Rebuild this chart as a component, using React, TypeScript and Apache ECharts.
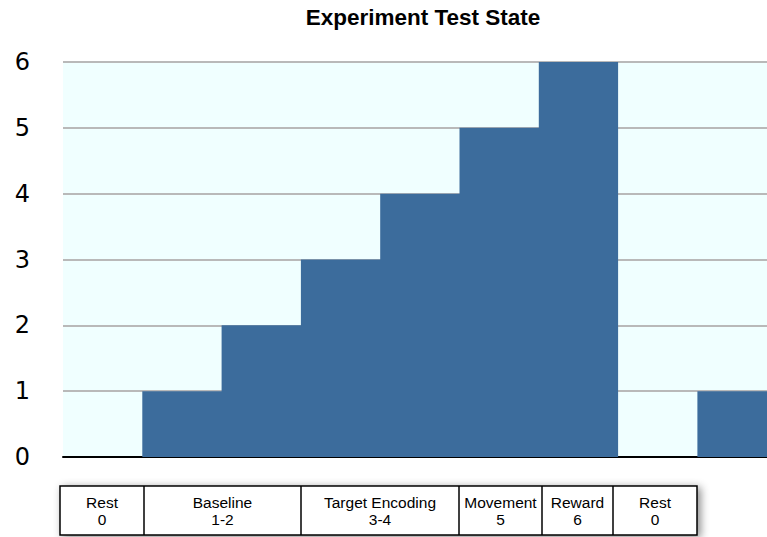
import React, { useEffect, useRef } from "react";
import * as echarts from "echarts";

const stateValues = [0, 1, 2, 3, 4, 5, 6, 0, 1];
const yTicks = [0, 1, 2, 3, 4, 5, 6];
const phaseNames = ["Rest", "Baseline", "Target Encoding", "Movement", "Reward", "Rest"];
const phaseStates = ["0", "1-2", "3-4", "5", "6", "0"];

// layout of the legend table (pixel edges)
const tableEdges = [60, 144, 301, 459, 542, 613, 697];
const tableTop = 486;
const tableBottom = 535;
const CHART_W = 800;

export default function App() {
  const ref = useRef<HTMLDivElement>(null);
  useEffect(() => {
    document.body.style.margin = "0";
    if (!ref.current) return;
    const chart = echarts.init(ref.current, null, { renderer: "svg" });
    const font = "'Liberation Sans', Arial, Helvetica, sans-serif";
    const graphics: any[] = [];
    graphics.push({
      type: "rect",
      shape: { x: tableEdges[0], y: tableTop, width: tableEdges[tableEdges.length - 1] - tableEdges[0], height: tableBottom - tableTop },
      style: { fill: "#fff", stroke: "#000", lineWidth: 1.5, shadowBlur: 8, shadowOffsetX: 3, shadowOffsetY: 2, shadowColor: "rgba(0,0,0,0.45)" },
      z: 10,
    });
    for (let i = 1; i < tableEdges.length - 1; i++) {
      graphics.push({
        type: "line",
        shape: { x1: tableEdges[i], y1: tableTop, x2: tableEdges[i], y2: tableBottom },
        style: { stroke: "#000", lineWidth: 1.5 },
        z: 11,
      });
    }
    for (let i = 0; i < phaseNames.length; i++) {
      const cx = (tableEdges[i] + tableEdges[i + 1]) / 2;
      graphics.push({
        type: "text",
        x: cx,
        y: 502,
        style: { text: phaseNames[i], fontSize: 15.5, fontFamily: font, fill: "#000", align: "center", verticalAlign: "middle" },
        z: 12,
      });
      graphics.push({
        type: "text",
        x: cx,
        y: 519,
        style: { text: phaseStates[i], fontSize: 15.5, fontFamily: font, fill: "#000", align: "center", verticalAlign: "middle" },
        z: 12,
      });
    }
    // step data: segment i spans [i, i+1] with value stateValues[i]
    const stepData: number[][] = stateValues.map((v, i) => [i, v]);
    stepData.push([stateValues.length, stateValues[stateValues.length - 1]]);
    chart.setOption({
      animation: false,
      title: {
        text: "Experiment Test State",
        left: 418,
        textAlign: "center",
        top: 1,
        textStyle: { fontSize: 22.5, fontWeight: "bold", fontFamily: font, color: "#000" },
      },
      grid: {
        left: 63,
        right: CHART_W - 776.7,
        top: 62,
        bottom: 537 - 457,
        show: true,
        backgroundColor: "#f0ffff",
        borderWidth: 0,
        containLabel: false,
      },
      xAxis: {
        type: "value",
        min: 0,
        max: stateValues.length,
        interval: 1,
        axisLine: { show: true, onZero: false, lineStyle: { color: "#000", width: 2 } },
        axisTick: { show: false },
        axisLabel: { show: false },
        splitLine: { show: false },
      },
      yAxis: {
        type: "value",
        min: yTicks[0],
        max: yTicks[yTicks.length - 1],
        interval: 1,
        axisLine: { show: false },
        axisTick: { show: false },
        axisLabel: { fontSize: 24, fontFamily: "'DejaVu Sans', sans-serif", color: "#000", margin: 33 },
        splitLine: { show: true, lineStyle: { color: "#b9b9b9", width: 2 } },
      },
      series: [
        {
          type: "line",
          step: "end",
          data: stepData,
          showSymbol: false,
          symbol: "none",
          lineStyle: { width: 0, color: "#3c6c9c" },
          areaStyle: { color: "#3c6c9c", opacity: 1 },
          z: 3,
        },
      ],
      graphic: graphics,
    });
    return () => chart.dispose();
  }, []);
  return (
    <div style={{ width: 767, height: 537, overflow: "hidden", position: "relative" }}>
      <div ref={ref} style={{ width: CHART_W, height: 537 }} />
    </div>
  );
}
